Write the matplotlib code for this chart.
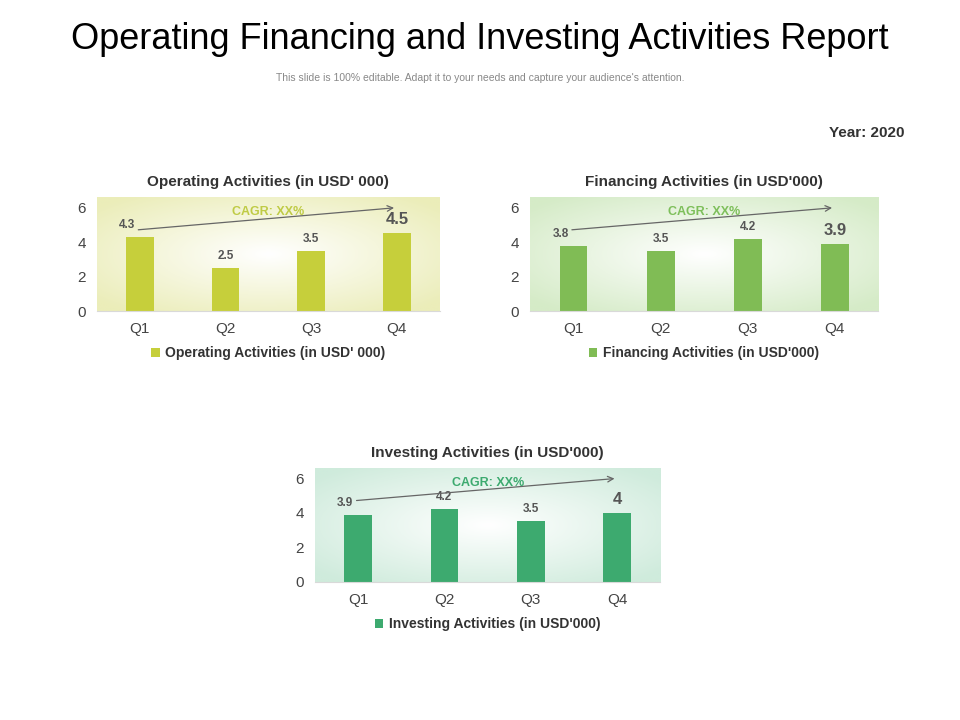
import numpy as np
import matplotlib.pyplot as plt
from matplotlib.colors import LinearSegmentedColormap

quarters = ["Q1", "Q2", "Q3", "Q4"]
operating = [4.3, 2.5, 3.5, 4.5]
financing = [3.8, 3.5, 4.2, 3.9]
investing = [3.9, 4.2, 3.5, 4.0]

charts = [
    ("Operating Activities (in USD' 000)", operating, "#C6CF3B", "#EBEDB9", "#BFCB45",
     [0.101, 0.568, 0.357, 0.158]),
    ("Financing Activities (in USD'000)", financing, "#80BC55", "#D5EBC7", "#7DBF5A",
     [0.552, 0.568, 0.363, 0.158]),
    ("Investing Activities (in USD'000)", investing, "#3DAA6F", "#CFEBDC", "#3DAA6F",
     [0.328, 0.192, 0.36, 0.158]),
]

fig = plt.figure(figsize=(9.6, 7.2), dpi=100)
plt.rcParams["font.family"] = "Liberation Sans"

fig.text(0.5, 0.945, "Operating Financing and Investing Activities Report",
         ha="center", va="center", fontsize=26)
fig.text(0.5, 0.892, "This slide is 100% editable. Adapt it to your needs and capture your audience's attention.",
         ha="center", va="center", fontsize=7.5, color="#888888")
fig.text(0.942, 0.815, "Year: 2020", ha="right", va="center", fontsize=11,
         fontweight="bold", color="#333333")

yy, xx = np.mgrid[-1:1:200j, -1:1:300j]
r = np.clip(np.sqrt(xx ** 2 + yy ** 2) / 1.3, 0, 1)

for title, vals, bar_col, bg_col, cagr_col, pos in charts:
    ax = fig.add_axes(pos)
    cmap = LinearSegmentedColormap.from_list("bg", ["#FFFFFF", bg_col])
    ax.imshow(r, cmap=cmap, extent=(-0.5, 3.5, 0, 6.6), aspect="auto", zorder=0)
    x = np.arange(len(quarters))
    ax.bar(x, vals, width=0.32, color=bar_col, zorder=2, label=title)
    for i, v in enumerate(vals):
        last = i == len(vals) - 1
        lbl = f"{v:g}"
        ax.text(i - (0.15 if i == 0 else 0), v + 0.35, lbl, ha="center", va="bottom",
                fontsize=12 if last else 8.5, fontweight="bold", color="#555555", zorder=3)
    ax.annotate("", xy=(3.0, 6.0), xytext=(-0.05, 4.7),
                arrowprops=dict(arrowstyle="->", color="#666666", lw=0.9), zorder=3)
    ax.text(1.5, 5.75, "CAGR: XX%", ha="center", va="center", fontsize=9,
            fontweight="bold", color=cagr_col, zorder=3)
    ax.set_xlim(-0.5, 3.5)
    ax.set_ylim(0, 6.6)
    ax.set_yticks([0, 2, 4, 6])
    ax.set_xticks(x)
    ax.set_xticklabels(quarters)
    ax.tick_params(length=0, labelsize=11, labelcolor="#444444", pad=8)
    for s in ["top", "right", "left"]:
        ax.spines[s].set_visible(False)
    ax.spines["bottom"].set_color("#D9D9D9")
    ax.set_title(title, fontsize=11, fontweight="bold", color="#333333", pad=8)
    ax.legend(loc="upper center", bbox_to_anchor=(0.5, -0.2), frameon=False,
              handlelength=0.6, handleheight=0.6, handletextpad=0.4,
              prop={"size": 10, "weight": "bold"}, labelcolor="#333333")

fig.savefig("out.png", dpi=100)
